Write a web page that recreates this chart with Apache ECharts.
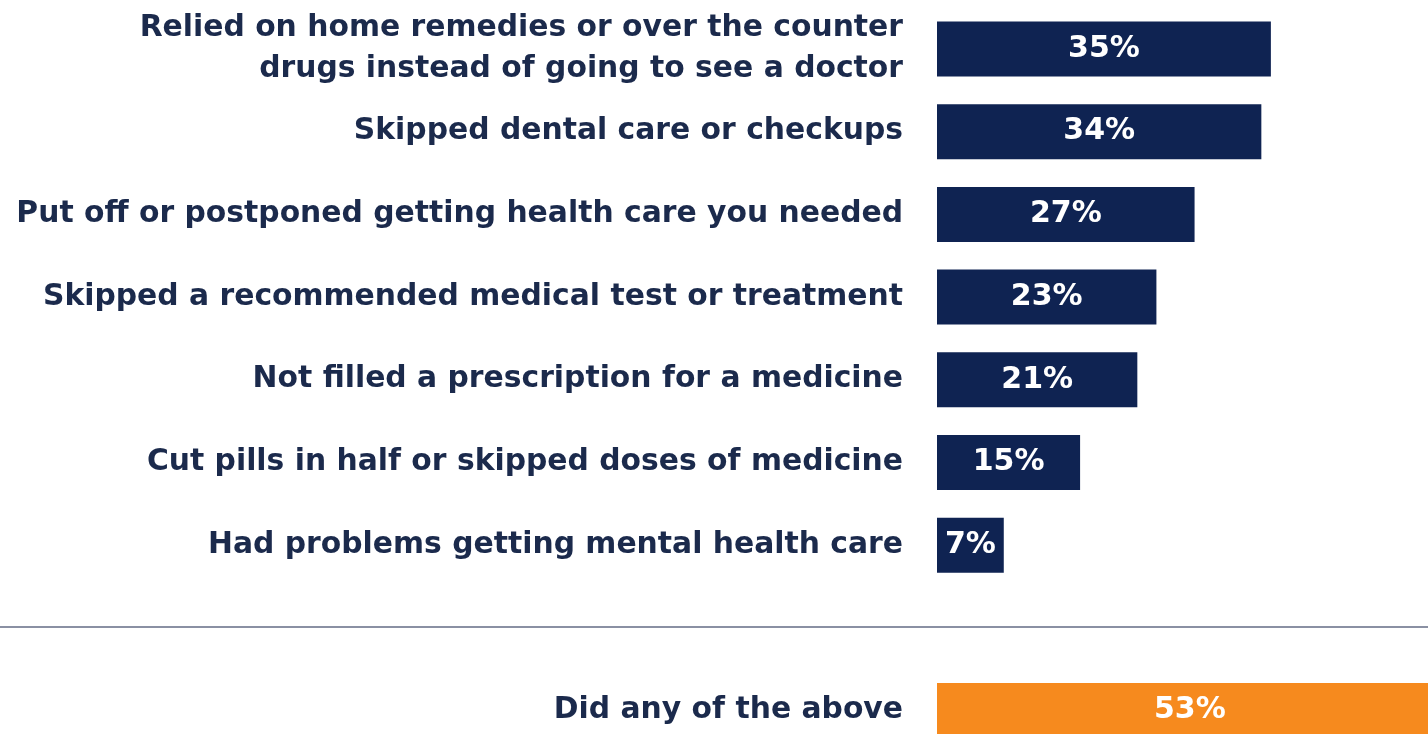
<!DOCTYPE html>
<html><head><meta charset="utf-8">
<script src="https://cdn.jsdelivr.net/npm/echarts@6/dist/echarts.min.js"></script>
<style>html,body{margin:0;padding:0;background:#fff}#c{width:1428px;height:734px}</style>
</head><body><div id="c"></div>
<script>
const categories = [
  'Relied on home remedies or over the counter\ndrugs instead of going to see a doctor',
  'Skipped dental care or checkups',
  'Put off or postponed getting health care you needed',
  'Skipped a recommended medical test or treatment',
  'Not filled a prescription for a medicine',
  'Cut pills in half or skipped doses of medicine',
  'Had problems getting mental health care',
  '',
  'Did any of the above'
];
const values = [35, 34, 27, 23, 21, 15, 7, null, 53];
const barColors = ['#0f2352','#0f2352','#0f2352','#0f2352','#0f2352','#0f2352','#0f2352','#0f2352','#f68a1e'];
const FONT = '"DejaVu Sans", Verdana, sans-serif';

const chart = echarts.init(document.getElementById('c'));
chart.setOption({
  animation: false,
  grid: { left: 937, top: 49, width: 491, height: 662, containLabel: false },
  xAxis: { type: 'value', min: 0, max: 51.47, show: false },
  yAxis: {
    type: 'category', data: categories, inverse: true, boundaryGap: false,
    axisLine: { show: false }, axisTick: { show: false },
    axisLabel: {
      margin: 34, align: 'right', color: '#1b2a4c',
      fontFamily: FONT, fontWeight: 'bold',
      fontSize: 29.8, lineHeight: 41, padding: [0, 0, 6, 0]
    }
  },
  series: [{
    type: 'bar', clip: false,
    data: values.map((v, i) => ({ value: v, itemStyle: { color: barColors[i] } })),
    barWidth: 55,
    label: {
      show: true, position: 'inside', color: '#fff',
      fontFamily: FONT, fontWeight: 'bold', fontSize: 30,
      formatter: p => p.value == null ? '' : p.value + '%'
    }
  }],
  graphic: [{
    type: 'line', shape: { x1: 0, y1: 627, x2: 1428, y2: 627 },
    style: { stroke: '#8a90a3', lineWidth: 2 }
  }]
});
</script></body></html>
